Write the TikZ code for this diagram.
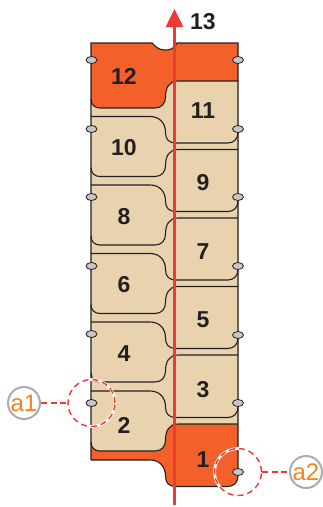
\documentclass[tikz,border=0pt]{standalone}
\usepackage{fontspec}
\setmainfont{Liberation Sans}
\usetikzlibrary{arrows.meta,shapes.geometric}

\definecolor{platetan}{HTML}{E8D3AE}
\definecolor{plateorange}{HTML}{F36029}
\definecolor{axisred}{HTML}{EE3A36}
\definecolor{inkdark}{HTML}{231F20}
\definecolor{ringgray}{HTML}{ABABAB}
\definecolor{tagorange}{HTML}{F58220}

\tikzset{
  platenum/.style={font=\fontsize{23}{23}\bfseries\selectfont,text=inkdark,inner sep=0pt},
  hole/.style={ellipse,draw=inkdark,fill=gray!45,line width=.8pt,minimum width=11pt,minimum height=7pt,inner sep=0pt},
  zone/.style={circle,draw=axisred,line width=1.4pt,dash pattern=on 6pt off 4pt,minimum size=47pt,inner sep=0pt,
    preaction={draw=white,solid,line width=2.8pt}},
  tag/.style={circle,draw=ringgray,line width=2pt,minimum size=32pt,inner sep=0pt,text=tagorange,font=\fontsize{24}{24}\selectfont},
  leader/.style={axisred,line width=1.3pt,dash pattern=on 6pt off 3.5pt}
}

\newcommand{\lowerseam}[1]{(91,#1-9) .. controls (91,#1-3) and (95,#1) .. (100,#1) -- (155,#1)
  .. controls (162,#1) and (165.5,#1-5) .. (165.5,#1-11) .. controls (165.5,#1-20) and (169,#1-27) .. (178,#1-27) -- (238,#1-27)}
\newcommand{\upperseam}[1]{(91,#1) -- (150,#1) .. controls (160,#1) and (165.5,#1+7) .. (165.5,#1+16)
  .. controls (165.5,#1+23) and (169,#1+26.5) .. (176,#1+26.5) -- (228,#1+26.5) .. controls (234,#1+26.5) and (238,#1+22) .. (238,#1+16)}

\begin{document}
\begin{tikzpicture}[x=1pt,y=-1pt]
  \useasboundingbox (0,0) rectangle (323,507);

  \fill[plateorange] (91,43) -- (152,43) .. controls (156,47) and (159,50) .. (165,50) .. controls (170,50) and (174,49) .. (177,43)
    -- (238,43) -- (238,476) .. controls (238,482) and (234,486.5) .. (228,486.5) -- (176,486.5)
    .. controls (169,486.5) and (165.5,483) .. (165.5,476) .. controls (165.5,467) and (160,460) .. (150,460) -- (91,460) -- cycle;
  \fill[platetan] \lowerseam{108} -- (238,424) -- (178,424) .. controls (169,424) and (165.5,431) .. (165.5,440)
    .. controls (165.5,446) and (162,451) .. (155,451) -- (100,451) .. controls (95,451) and (91,448) .. (91,442) -- cycle;

  \draw[inkdark,line width=1.1pt] (91,460) -- (91,43) -- (152,43) .. controls (156,47) and (159,50) .. (165,50)
    .. controls (170,50) and (174,49) .. (177,43) -- (238,43) -- (238,476);
  \foreach \yb in {108,176.5,245,313.5,382,451}
    \draw[inkdark,line width=1.1pt] \lowerseam{\yb};
  \foreach \yt in {116.5,185,253.5,322,391,460}
    \draw[inkdark,line width=1.1pt] \upperseam{\yt};

  \draw[axisred,line width=2.6pt,-{Triangle[length=18pt,width=17pt]}] (174.5,505) -- (174.5,9);

  \foreach \n/\px/\py in {12/124/76,10/124/148,8/124/217,6/124/285,4/124/354,2/124/425,
      11/203/111,9/203/183,7/203/252,5/203/320,3/203/390,1/203/460,13/203/22}
    \node[platenum] (plate\n) at (\px,\py) {\n};

  \foreach \hy [count=\i] in {60,129,197,266,334,403}
    \node[hole] (holeL\i) at (91.5,\hy) {};
  \foreach \hy [count=\i] in {60,129,197,266,335,403,472}
    \node[hole] (holeR\i) at (238,\hy) {};

  \node[zone] (zoneA) at (holeL6) {};
  \node[zone] (zoneB) at (holeR7) {};
  \node[tag] (tagA) at (24,403) {a1};
  \node[tag] (tagB) at (306,472) {a2};
  \draw[leader] (tagA) -- (zoneA);
  \draw[leader] (zoneB) -- (tagB);
\end{tikzpicture}
\end{document}
